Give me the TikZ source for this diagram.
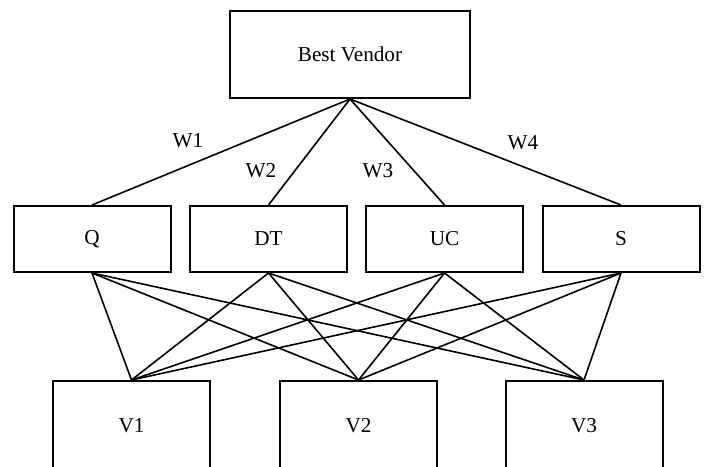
\documentclass[tikz,border=0pt]{standalone}
\usepackage{fontspec}
\setmainfont{Liberation Serif}
\tikzset{
  box/.style={draw, rectangle, line width=1pt, inner sep=0pt, font=\fontsize{10.6}{12}\selectfont},
  crit/.style={box, minimum width=78.5pt, minimum height=33pt},
  vend/.style={box, minimum width=78.5pt, minimum height=45pt},
  wlabel/.style={inner sep=0pt, font=\fontsize{10.6}{12}\selectfont},
  link/.style={draw, line width=0.8pt},
}
\begin{document}
\begin{tikzpicture}[x=0.5pt, y=-0.5pt]
\useasboundingbox (0,0) rectangle (704,466);

\node[box, minimum width=120pt, minimum height=43.5pt] (best) at (350,54.5) {Best Vendor};

\node[crit] (q) at (92,239) {Q};
\node[crit] (dt) at (268.5,239) {DT};
\node[crit] (uc) at (444.5,239) {UC};
\node[crit] (s) at (621,239) {S};

\node[vend] (v1) at (131.5,426) {V1};
\node[vend] (v2) at (358.5,426) {V2};
\node[vend] (v3) at (584,426) {V3};

\node[wlabel] (w1) at (188,141) {W1};
\node[wlabel] (w2) at (261,171) {W2};
\node[wlabel] (w3) at (378,171) {W3};
\node[wlabel] (w4) at (523,143) {W4};

\path[link] (best.south) -- (q.north);
\path[link] (best.south) -- (dt.north);
\path[link] (best.south) -- (uc.north);
\path[link] (best.south) -- (s.north);

\foreach \c in {q,dt,uc,s}
  \foreach \v in {v1,v2,v3}
    \path[link] (\c.south) -- (\v.north);

\end{tikzpicture}
\end{document}
